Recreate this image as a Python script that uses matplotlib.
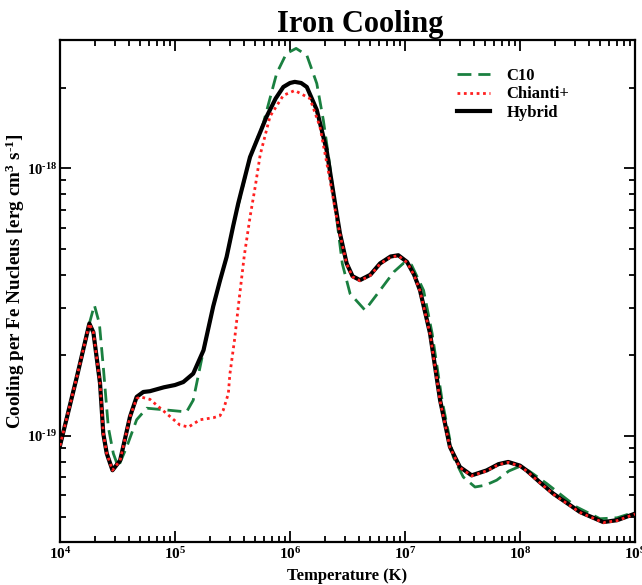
import numpy as np
import matplotlib
matplotlib.use("Agg")
import matplotlib.pyplot as plt
from matplotlib.ticker import LogLocator, NullFormatter, FixedLocator, FixedFormatter

# ---- data (cooling in units of 1e-19 erg cm^3 s^-1) ----
T_hybrid = [1.0e4, 1.4e4, 1.8e4, 1.95e4, 2.01e4, 2.23e4, 2.38e4, 2.55e4, 2.86e4, 3.33e4,
            4.06e4, 4.64e4, 5.3e4, 6.06e4, 8.0e4, 1.0e5, 1.18e5, 1.44e5, 1.77e5, 2.15e5,
            2.46e5, 2.81e5, 3.21e5, 3.55e5, 4.49e5, 6.27e5, 7.5e5, 8.75e5, 1.0e6, 1.1e6,
            1.25e6, 1.4e6, 1.71e6, 2.08e6, 2.5e6, 2.72e6, 3.11e6, 3.5e6, 4.06e6, 5.0e6,
            6.07e6, 7.5e6, 8.75e6, 1.04e7, 1.2e7, 1.35e7, 1.65e7, 2.02e7, 2.46e7, 3.0e7,
            3.8e7, 5.13e7, 6.5e7, 7.9e7, 1.0e8, 1.14e8, 1.5e8, 1.95e8, 3.33e8, 5.3e8,
            7.0e8, 1.0e9]
L_hybrid = [0.92, 1.66, 2.63, 2.44, 2.21, 1.57, 1.02, 0.86, 0.745, 0.81,
            1.18, 1.40, 1.46, 1.47, 1.52, 1.55, 1.59, 1.71, 2.09, 3.05,
            3.8, 4.66, 6.1, 7.4, 11.0, 15.6, 18.2, 20.1, 20.8, 21.0,
            20.8, 20.1, 16.5, 11.7, 7.1, 5.7, 4.41, 3.95, 3.82, 4.0,
            4.41, 4.68, 4.73, 4.47, 4.0, 3.5, 2.42, 1.36, 0.91, 0.766,
            0.713, 0.744, 0.785, 0.80, 0.775, 0.744, 0.67, 0.609, 0.52, 0.477,
            0.485, 0.513]

T_chianti = [1.0e4, 1.4e4, 1.8e4, 1.95e4, 2.01e4, 2.23e4, 2.38e4, 2.55e4, 2.86e4, 3.33e4,
             4.06e4, 4.64e4, 5.0e4, 6.06e4, 8.5e4, 1.1e5, 1.31e5, 1.65e5, 2.15e5, 2.46e5,
             2.63e5, 2.91e5, 3.0e5, 3.3e5, 3.6e5, 4.0e5, 4.5e5, 5.0e5, 5.5e5, 6.7e5,
             8.75e5, 1.1e6, 1.49e6, 1.82e6, 2.23e6, 2.5e6, 2.72e6, 3.11e6, 3.5e6, 4.06e6,
             5.0e6, 6.07e6, 7.5e6, 8.75e6, 1.04e7, 1.2e7, 1.35e7, 1.65e7, 2.02e7, 2.46e7,
             3.0e7, 3.8e7, 5.13e7, 6.5e7, 7.9e7, 1.0e8, 1.14e8, 1.5e8, 1.95e8, 3.33e8,
             5.3e8, 7.0e8, 1.0e9]
L_chianti = [0.92, 1.66, 2.63, 2.44, 2.21, 1.57, 1.02, 0.86, 0.745, 0.81,
             1.18, 1.38, 1.40, 1.37, 1.21, 1.10, 1.08, 1.15, 1.17, 1.19,
             1.25, 1.44, 1.7, 2.3, 3.2, 4.7, 6.6, 8.6, 11.2, 15.6,
             18.7, 19.5, 18.2, 14.3, 9.0, 6.8, 5.65, 4.39, 3.93, 3.80,
             3.98, 4.39, 4.66, 4.71, 4.45, 3.98, 3.48, 2.41, 1.35, 0.905,
             0.762, 0.710, 0.741, 0.782, 0.797, 0.772, 0.741, 0.667, 0.606, 0.518,
             0.475, 0.483, 0.511]

T_c10 = [1.0e4, 1.4e4, 1.8e4, 1.99e4, 2.2e4, 2.38e4, 2.63e4, 2.91e4, 3.21e4, 3.8e4,
         4.64e4, 5.68e4, 8.5e4, 1.26e5, 1.44e5, 1.77e5, 2.15e5, 2.46e5, 2.81e5, 3.21e5,
         4.49e5, 5.86e5, 7.66e5, 9.3e5, 1.13e6, 1.4e6, 1.71e6, 1.95e6, 2.2e6, 2.5e6,
         2.85e6, 3.33e6, 4.49e6, 6.07e6, 8.0e6, 9.66e6, 1.14e7, 1.45e7, 1.72e7, 2.1e7,
         2.63e7, 3.21e7, 4.06e7, 5.0e7, 6.27e7, 8.0e7, 9.66e7, 1.2e8, 1.71e8, 3.11e8,
         4.97e8, 7.0e8, 1.0e9]
L_c10 = [0.92, 1.66, 2.63, 3.08, 2.63, 1.81, 1.08, 0.86, 0.766, 0.91,
         1.15, 1.27, 1.25, 1.23, 1.36, 2.09, 3.05, 3.8, 4.66, 6.1,
         11.0, 14.7, 22.6, 26.8, 28.0, 26.4, 20.7, 15.1, 10.5, 6.9,
         4.4, 3.40, 2.95, 3.5, 4.1, 4.41, 4.35, 3.5, 2.42, 1.36,
         0.835, 0.703, 0.645, 0.655, 0.684, 0.74, 0.766, 0.74, 0.664, 0.543,
         0.491, 0.495, 0.52]

series_labels = ["C10", "Chianti+", "Hybrid"]
x_tick_exps = [4, 5, 6, 7, 8, 9]
y_tick_exps = [-19, -18]

plt.rcParams['font.family'] = ['Liberation Serif', 'DejaVu Serif']
plt.rcParams['font.weight'] = 'bold'
plt.rcParams['mathtext.fontset'] = 'custom'
plt.rcParams['mathtext.rm'] = 'Liberation Serif:bold'
plt.rcParams['mathtext.bf'] = 'Liberation Serif:bold'
plt.rcParams['mathtext.it'] = 'Liberation Serif:bold'
plt.rcParams['mathtext.default'] = 'rm'

HYPH = '\u2010'


def exp_label(e):
    s = str(e).replace('-', HYPH)
    return '$10^{' + s + '}$'


fig = plt.figure(figsize=(6.42, 5.85), dpi=100)
ax = fig.add_axes([60/642, 43/585, 575/642, 502/585])

scale = 1e-19
ax.plot(T_c10, np.array(L_c10) * scale, color='#1a8040', lw=2.0, ls=(0, (5, 2.5)), label=series_labels[0], zorder=2)
ax.plot(T_hybrid, np.array(L_hybrid) * scale, color='black', lw=3.0, ls='-', label=series_labels[2], zorder=3)
ax.plot(T_chianti, np.array(L_chianti) * scale, color='#ff2020', lw=2.0, ls=(0, (1, 1.3)), label=series_labels[1], zorder=4)

ax.set_xscale('log')
ax.set_yscale('log')
ax.set_xlim(1e4, 1e9)
ax.set_ylim(4.02e-20, 3.01e-18)

ax.xaxis.set_major_locator(FixedLocator([10.0**e for e in x_tick_exps]))
ax.xaxis.set_major_formatter(FixedFormatter([exp_label(e) for e in x_tick_exps]))
ax.xaxis.set_minor_locator(LogLocator(base=10, subs=np.arange(2, 10), numticks=20))
ax.xaxis.set_minor_formatter(NullFormatter())
ax.yaxis.set_major_locator(FixedLocator([10.0**e for e in y_tick_exps]))
ax.yaxis.set_major_formatter(FixedFormatter([exp_label(e) for e in y_tick_exps]))
ax.yaxis.set_minor_locator(LogLocator(base=10, subs=np.arange(2, 10), numticks=20))
ax.yaxis.set_minor_formatter(NullFormatter())

ax.tick_params(which='both', direction='in', top=True, right=True, width=1.3)
ax.tick_params(which='major', length=8)
ax.tick_params(axis='x', which='major', labelsize=11, pad=3)
ax.tick_params(axis='y', which='major', labelsize=10.5, pad=2)
ax.tick_params(which='minor', length=4)
for sp in ax.spines.values():
    sp.set_linewidth(1.6)

ax.set_xlabel('Temperature (K)', fontsize=12, fontweight='bold', labelpad=4)
ax.set_ylabel('Cooling per Fe Nucleus [erg cm$^{3}$ s$^{' + HYPH + '1}$]', fontsize=13.8, fontweight='bold')
ax.yaxis.set_label_coords(-0.058, (542 - 281.5) / 502)
ax.set_title('Iron Cooling', fontsize=22, fontweight='bold', pad=6, x=0.522)

handles, labels = ax.get_legend_handles_labels()
order = [0, 2, 1]
leg = ax.legend([handles[i] for i in order], [labels[i] for i in order],
                loc='upper left', bbox_to_anchor=((456.7 - 60) / 575, (542 - 68) / 502),
                frameon=False, borderpad=0, borderaxespad=0,
                handlelength=2.0, handletextpad=1.0, labelspacing=0.15,
                prop={'weight': 'bold', 'size': 12})

fig.savefig('out.png', dpi=100)
